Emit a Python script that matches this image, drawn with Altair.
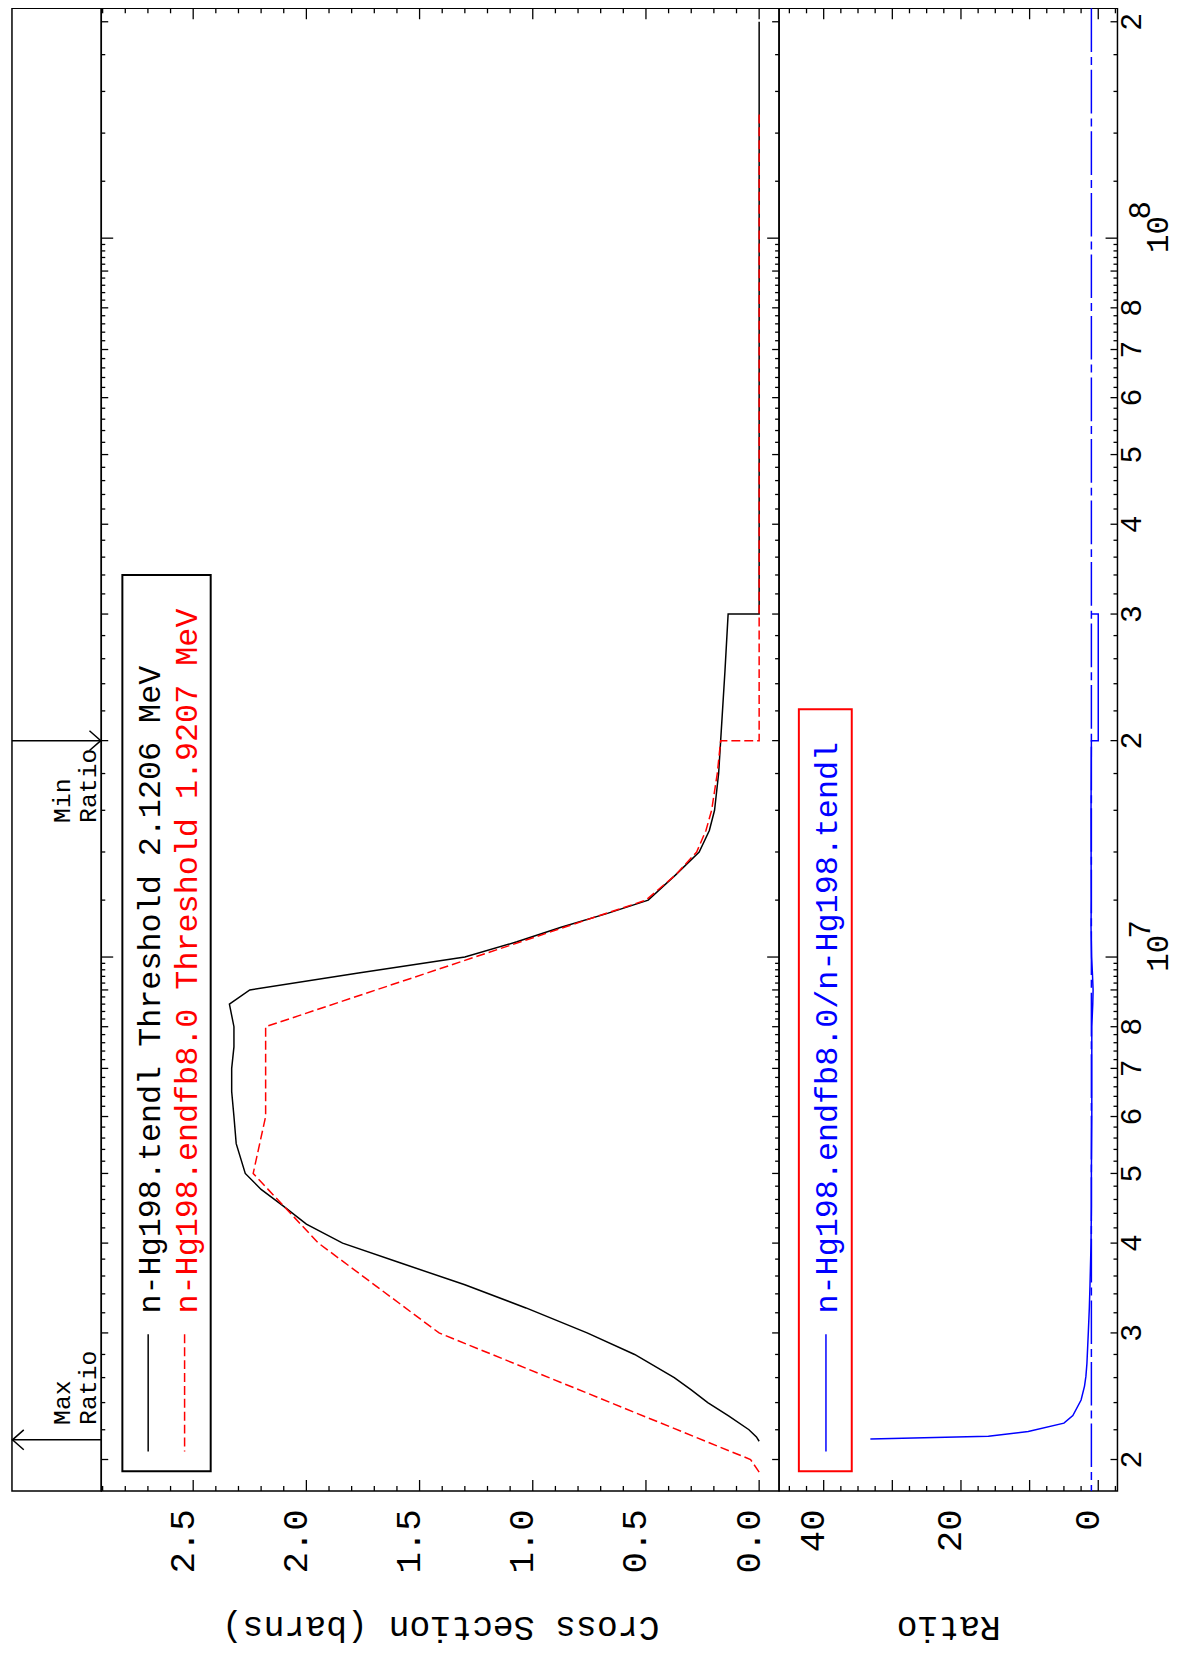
import altair as alt
import pandas as pd

# ---------------- values ----------------
tendl_energy = [2.1206e6, 2.15e6, 2.2e6, 2.3e6, 2.4e6, 2.5e6, 2.6e6, 2.8e6, 3.0e6, 3.25e6,
                3.5e6, 3.75e6, 4.0e6, 4.25e6, 4.5e6, 4.75e6, 5.0e6, 5.5e6, 6.0e6, 6.5e6,
                7.0e6, 7.5e6, 8.0e6, 8.6e6, 9.0e6, 9.5e6, 1.0e7, 1.05e7, 1.1e7, 1.15e7,
                1.2e7, 1.3e7, 1.4e7, 1.5e7, 1.6e7, 1.8e7, 2.0e7, 2.5e7, 3.0e7, 3.0e7, 2.0e8]
tendl_xs = [0.0, 0.012, 0.045, 0.135, 0.227, 0.30, 0.375, 0.55, 0.76, 1.03,
            1.30, 1.58, 1.84, 2.00, 2.10, 2.20, 2.27, 2.31, 2.32, 2.33,
            2.33, 2.32, 2.32, 2.34, 2.25, 1.77, 1.30, 1.07, 0.875, 0.67,
            0.49, 0.37, 0.265, 0.22, 0.197, 0.179, 0.17, 0.151, 0.137, 0.0, 0.0]

endfb_energy = [1.9207e6, 2.0e6, 3.0e6, 4.0e6, 5.0e6, 6.0e6, 8.0e6, 1.2e7, 1.3e7, 1.4e7,
                1.5e7, 1.6e7, 1.8e7, 2.0e7, 2.0e7, 1.5e8]
endfb_xs = [0.0, 0.038, 1.414, 1.947, 2.235, 2.18, 2.18, 0.50, 0.37, 0.276,
            0.235, 0.21, 0.185, 0.17, 0.0, 0.0]

ratio_energy = [2.135e6, 2.154e6, 2.188e6, 2.247e6, 2.302e6, 2.42e6, 2.53e6, 2.61e6, 2.72e6, 3.0e6,
                3.25e6, 3.5e6, 4.0e6, 4.5e6, 5.0e6, 6.0e6, 7.0e6, 8.0e6, 8.6e6, 9.0e6,
                9.5e6, 1.0e7, 1.1e7, 1.2e7, 1.4e7, 1.6e7, 2.0e7, 2.0e7, 3.0e7, 3.0e7]
ratio_value = [33.2, 16.0, 10.2, 5.0, 3.7, 2.5, 2.0, 1.8, 1.65, 1.45,
               1.3, 1.2, 1.05, 1.0, 1.0, 0.94, 0.94, 0.94, 0.8, 0.75,
               0.85, 0.97, 1.05, 1.02, 1.04, 1.05, 1.0, 0.0, 0.0, 1.0]
ratio_reference = [1.0]

max_ratio_energy = [2.13e6]
min_ratio_energy = [2.0e7]

cs_label_values = [0.0, 0.5, 1.0, 1.5, 2.0, 2.5]
ratio_label_values = [0, 20, 40]
energy_label_values = [2e6, 3e6, 4e6, 5e6, 6e6, 7e6, 8e6,
                       2e7, 3e7, 4e7, 5e7, 6e7, 7e7, 8e7, 2e8]
energy_label_text = ["2", "3", "4", "5", "6", "7", "8",
                     "2", "3", "4", "5", "6", "7", "8", "2"]
decade_values = [1e7, 1e8]
decade_base = ["10", "10"]
decade_exponent = ["7", "8"]

legend_cs_labels = ["n-Hg198.tendl Threshold 2.1206 MeV",
                    "n-Hg198.endfb8.0 Threshold 1.9207 MeV"]
legend_ratio_labels = ["n-Hg198.endfb8.0/n-Hg198.tendl"]
cs_title = "Cross Section (barns)"
ratio_title = "Ratio"
max_text = ["Max", "Ratio"]
min_text = ["Min", "Ratio"]

# ---------------- axis tick positions ----------------
cs_major = [i / 10 for i in range(0, 30) if i % 5 == 0]
cs_minor = [i / 10 for i in range(0, 30) if i % 5 != 0]
ratio_major = [k * 2.5 for k in range(-1, 19) if k % 4 == 0]
ratio_minor = [k * 2.5 for k in range(-1, 19) if k % 4 != 0]
e_dec, e_int, e_min = [], [], []
for ex, lo, hi in ((6, 20, 98), (7, 10, 98), (8, 10, 20)):
    for m in range(lo, hi + 1, 2):
        val = float(m * 10 ** (ex - 1))
        if m == 10:
            e_dec.append(val)
        elif m % 10 == 0:
            e_int.append(val)
        else:
            e_min.append(val)

# ---------------- layout / style ----------------
FONT = "Liberation Mono"
H = 1494
W_S, W_C, W_R = 90, 683, 341
E_DOM = [1.8086e6, 2.088e8]
CS_DOM = [-0.088, 2.906]
R_DOM = [-2.8, 46.5]
BLACK, RED, BLUE = "#000000", "#ff0000", "#0000ff"
TW = 1.3

yscale = alt.Scale(type="log", domain=E_DOM, nice=False)


def Yenc():
    return alt.Y("E:Q", scale=yscale, axis=None)


def make_axis(values, fmt, title):
    return alt.Axis(values=values, format=fmt, labelAngle=270, labelAlign="right",
                    labelBaseline="alphabetic", labelPadding=18, labelFont=FONT,
                    labelFontSize=36, labelColor="black", labelFlush=False,
                    labelOverlap=False, ticks=False, tickSize=0, domain=False, grid=False,
                    title=title, titleFont=FONT, titleFontSize=35, titleFontWeight="normal",
                    titleAngle=180, titleBaseline="alphabetic", titleAlign="center",
                    titleY=127, titleColor="black")


cs_scale = alt.Scale(domain=CS_DOM, reverse=True, nice=False, zero=False)
cs_axis = make_axis(cs_label_values, ".1f", cs_title)
r_scale = alt.Scale(domain=R_DOM, reverse=True, nice=False, zero=False)
r_axis = make_axis(ratio_label_values, "d", ratio_title)


def CSX():
    return alt.X("v:Q", scale=cs_scale, axis=cs_axis)


def RX():
    return alt.X("v:Q", scale=r_scale, axis=r_axis)


def one():
    return pd.DataFrame({"k": [0]})


def vticks(values, length, top, xenc):
    d = pd.DataFrame({"v": values})
    m = alt.Chart(d).mark_rule(color=BLACK, strokeWidth=TW)
    if top:
        return m.encode(x=xenc, y=alt.value(0), y2=alt.value(length))
    return m.encode(x=xenc, y=alt.value(H), y2=alt.value(H - length))


def hticks(values, length, x0, direction):
    d = pd.DataFrame({"E": values})
    return alt.Chart(d).mark_rule(color=BLACK, strokeWidth=TW).encode(
        y=Yenc(), x=alt.value(x0), x2=alt.value(x0 + direction * length))


def energy_edge(x0, direction):
    return [hticks(e_dec, 12, x0, direction), hticks(e_int, 7, x0, direction),
            hticks(e_min, 4, x0, direction)]


def ptext(txt, x, y, color, size=32):
    return alt.Chart(one()).mark_text(text=txt, angle=270, align="left",
                                      baseline="alphabetic", font=FONT, fontSize=size,
                                      color=color).encode(x=alt.value(x), y=alt.value(y))


# ---------------- annotation strip ----------------
max_df = pd.DataFrame({"E": max_ratio_energy})
min_df = pd.DataFrame({"E": min_ratio_energy})


def arrow_layers(d, left_tip, lines, dx):
    layers = [alt.Chart(d).mark_rule(color=BLACK, strokeWidth=1.5).encode(
        y=Yenc(), x=alt.value(0), x2=alt.value(W_S))]
    if left_tip:
        shape, xt = "M 1.14 -1 L 0 0 L 1.14 1", 0.5
    else:
        shape, xt = "M -1.14 -1 L 0 0 L -1.14 1", W_S - 0.5
    layers.append(alt.Chart(d).mark_point(shape=shape, filled=False, size=400,
                                          color=BLACK, strokeWidth=1.5, opacity=1).encode(
        y=Yenc(), x=alt.value(xt)))
    for txt, xb in zip(lines, (58.25, 84.25)):
        layers.append(alt.Chart(d).mark_text(text=txt, angle=270, align="left",
                                             baseline="alphabetic", font=FONT, fontSize=25,
                                             color=BLACK, dx=dx).encode(
            y=Yenc(), x=alt.value(xb)))
    return layers


strip = alt.layer(*(arrow_layers(max_df, True, max_text, 15)
                    + arrow_layers(min_df, False, min_text, -83))).properties(
    width=W_S, height=H)

# ---------------- cross-section panel ----------------
tendl_df = pd.DataFrame({"E": tendl_energy, "v": tendl_xs, "i": list(range(len(tendl_xs)))})
endfb_df = pd.DataFrame({"E": endfb_energy, "v": endfb_xs, "i": list(range(len(endfb_xs)))})

cs_layers = [
    vticks(cs_major, 11, False, CSX()), vticks(cs_minor, 5, False, CSX()),
    vticks(cs_major, 11, True, CSX()), vticks(cs_minor, 5, True, CSX()),
] + energy_edge(0, 1) + energy_edge(W_C, -1) + [
    alt.Chart(tendl_df).mark_line(color=BLACK, strokeWidth=1.5, clip=True).encode(
        x=CSX(), y=Yenc(), order="i:Q"),
    alt.Chart(endfb_df).mark_line(color=RED, strokeWidth=1.5, strokeDash=[9, 4], clip=True).encode(
        x=CSX(), y=Yenc(), order="i:Q"),
    alt.Chart(one()).mark_rect(fill="white", stroke=BLACK, strokeWidth=2).encode(
        x=alt.value(21.25), x2=alt.value(110.25), y=alt.value(571), y2=alt.value(1474.25)),
    alt.Chart(one()).mark_rule(color=BLACK, strokeWidth=1.5).encode(
        x=alt.value(47.25), y=alt.value(1336.25), y2=alt.value(1454.25)),
    alt.Chart(one()).mark_rule(color=RED, strokeWidth=1.5, strokeDash=[9, 4]).encode(
        x=alt.value(83.95), y=alt.value(1336.25), y2=alt.value(1454.25)),
    ptext(legend_cs_labels[0], 59.25, 1315.25, BLACK),
    ptext(legend_cs_labels[1], 96.25, 1315.25, RED),
]
cs_panel = alt.layer(*cs_layers).properties(width=W_C, height=H)

# ---------------- ratio panel ----------------
ratio_df = pd.DataFrame({"E": ratio_energy, "v": ratio_value, "i": list(range(len(ratio_value)))})
ref_df = pd.DataFrame({"v": ratio_reference})
elab_df = pd.DataFrame({"E": energy_label_values, "label": energy_label_text})
dec_df = pd.DataFrame({"E": decade_values, "base": decade_base, "exp": decade_exponent})

r_layers = [
    vticks(ratio_major, 11, False, RX()), vticks(ratio_minor, 5, False, RX()),
    vticks(ratio_major, 11, True, RX()), vticks(ratio_minor, 5, True, RX()),
] + energy_edge(W_R, -1) + [
    alt.Chart(ref_df).mark_rule(color=BLUE, strokeWidth=1.5, strokeDash=[44, 5, 8, 5]).encode(
        x=RX()),
    alt.Chart(ratio_df).mark_line(color=BLUE, strokeWidth=1.5, clip=True).encode(
        x=RX(), y=Yenc(), order="i:Q"),
    alt.Chart(one()).mark_rect(fill="white", stroke=RED, strokeWidth=2).encode(
        x=alt.value(19.95), x2=alt.value(73.25), y=alt.value(706.25), y2=alt.value(1474.25)),
    alt.Chart(one()).mark_rule(color=BLUE, strokeWidth=1.5).encode(
        x=alt.value(47.25), y=alt.value(1336.25), y2=alt.value(1454.25)),
    ptext(legend_ratio_labels[0], 58.25, 1315.25, BLUE),
    alt.Chart(elab_df).mark_text(angle=270, align="center", baseline="alphabetic",
                                 font=FONT, fontSize=30, color=BLACK).encode(
        x=alt.value(W_R + 23.75), y=Yenc(), text="label:N"),
    alt.Chart(dec_df).mark_text(angle=270, align="center", baseline="alphabetic",
                                font=FONT, fontSize=31, color=BLACK, dx=3.7).encode(
        x=alt.value(W_R + 51.25), y=Yenc(), text="base:N"),
    alt.Chart(dec_df).mark_text(angle=270, align="center", baseline="alphabetic",
                                font=FONT, fontSize=31, color=BLACK, dx=28).encode(
        x=alt.value(W_R + 32.75), y=Yenc(), text="exp:N"),
]
ratio_panel = alt.layer(*r_layers).properties(width=W_R, height=H)

chart = (
    alt.hconcat(strip, cs_panel, ratio_panel, spacing=0, bounds="flush")
    .resolve_scale(x="independent", y="shared")
    .properties(padding={"left": 0, "top": -8, "right": 3, "bottom": 0})
    .configure_view(stroke=BLACK, strokeWidth=1.5)
    .configure_text(font=FONT)
)

chart.save("out.html", embed_options={"renderer": "svg", "actions": False})
